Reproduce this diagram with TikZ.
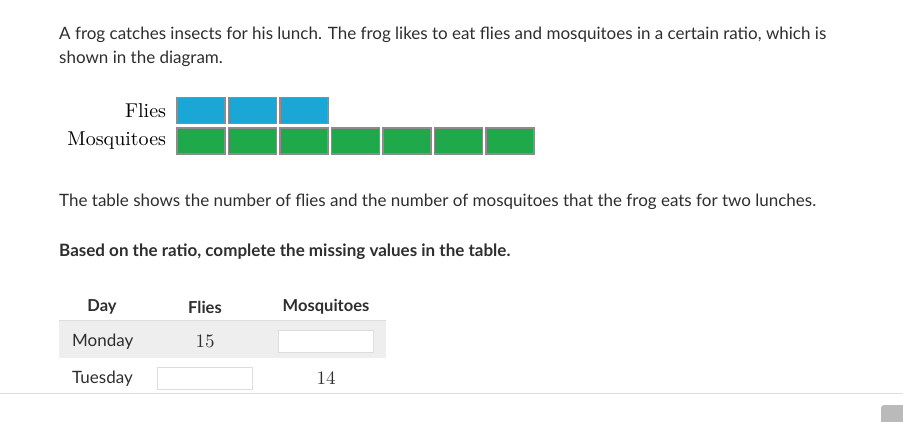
\documentclass[tikz,border=0pt]{standalone}
\usepackage{fontspec}
\newfontfamily\lato{Lato}
\newfontfamily\cmten{lmroman10-regular.otf}
\usetikzlibrary{positioning}
\definecolor{fliesblue}{HTML}{1BA7D5}
\definecolor{mosqgreen}{HTML}{20A94B}
\definecolor{cellgray}{HTML}{8C8C8C}
\definecolor{txtgray}{HTML}{2E2E2E}
\definecolor{rowgray}{HTML}{EEEEEE}
\definecolor{rulegray}{HTML}{DDDDDD}
\tikzset{
cell/.style={draw=cellgray, line width=1.5pt, minimum width=48pt,
    minimum height=26pt, inner sep=0pt},
prose/.style={anchor=west, inner sep=0pt, text=txtgray,
    font=\lato\fontsize{17}{24}\selectfont},
hdr/.style={inner sep=0pt, text=txtgray, font=\lato\bfseries\fontsize{16.5}{18}\selectfont},
lbl/.style={anchor=east, inner sep=0pt, font=\cmten\fontsize{20}{20}\selectfont},
num/.style={inner sep=0pt, text=txtgray, font=\cmten\fontsize{19}{19}\selectfont},
inbox/.style={draw=rulegray, fill=white, line width=1pt, minimum width=95pt,
    minimum height=22pt, inner sep=0pt}
}

\begin{document}
\begin{tikzpicture}[x=1pt,y=-1pt]
\useasboundingbox (0,0) rectangle (903,421);

% question text
\node[prose, align=left] (intro) at (59,47) {A frog catches insects for his lunch. The frog likes to eat flies and mosquitoes in a certain ratio, which is\\shown in the diagram.};

% tape diagram
\foreach \i in {1,...,3}
  \node[cell, fill=fliesblue] (f\i) at ({201+51.5*(\i-1)},110.5) {};
\foreach \i in {1,...,7}
  \node[cell, fill=mosqgreen] (m\i) at ({201+51.5*(\i-1)},141) {};
\node[lbl, left=10pt of f1] (flies) {Flies};
\node[lbl, left=10pt of m1] (mosq) {Mosquitoes};

\node[prose] (tbltxt) at (59,202) {The table shows the number of flies and the number of mosquitoes that the frog eats for two lunches.};
\node[prose, font=\lato\bfseries\fontsize{17}{24}\selectfont] (task) at (59,252) {Based on the ratio, complete the missing values in the table.};

% table
\fill[rowgray] (59,321) rectangle (386,358);
\draw[rulegray, line width=1pt] (59,320.5) -- (386,320.5);
\node[hdr] (hday) at (102,307) {Day};
\node[hdr] (hflies) at (205,307) {Flies};
\node[hdr] (hmosq) at (326,307) {Mosquitoes};

\node[prose] (mon) at (72,342) {Monday};
\node[num] (mflies) at (205,341) {15};
\node[inbox] (mmosq) at (326,341.5) {};

\node[prose] (tue) at (72,379) {Tuesday};
\node[inbox] (tflies) at (205,378) {};
\node[num] (tmosq) at (326,378) {14};

\draw[rulegray, line width=1pt] (0,393) -- (903,393);
\fill[black!27, rounded corners=3pt] (881,425) |- (910,405) -- (910,425) -- cycle;
\end{tikzpicture}
\end{document}
